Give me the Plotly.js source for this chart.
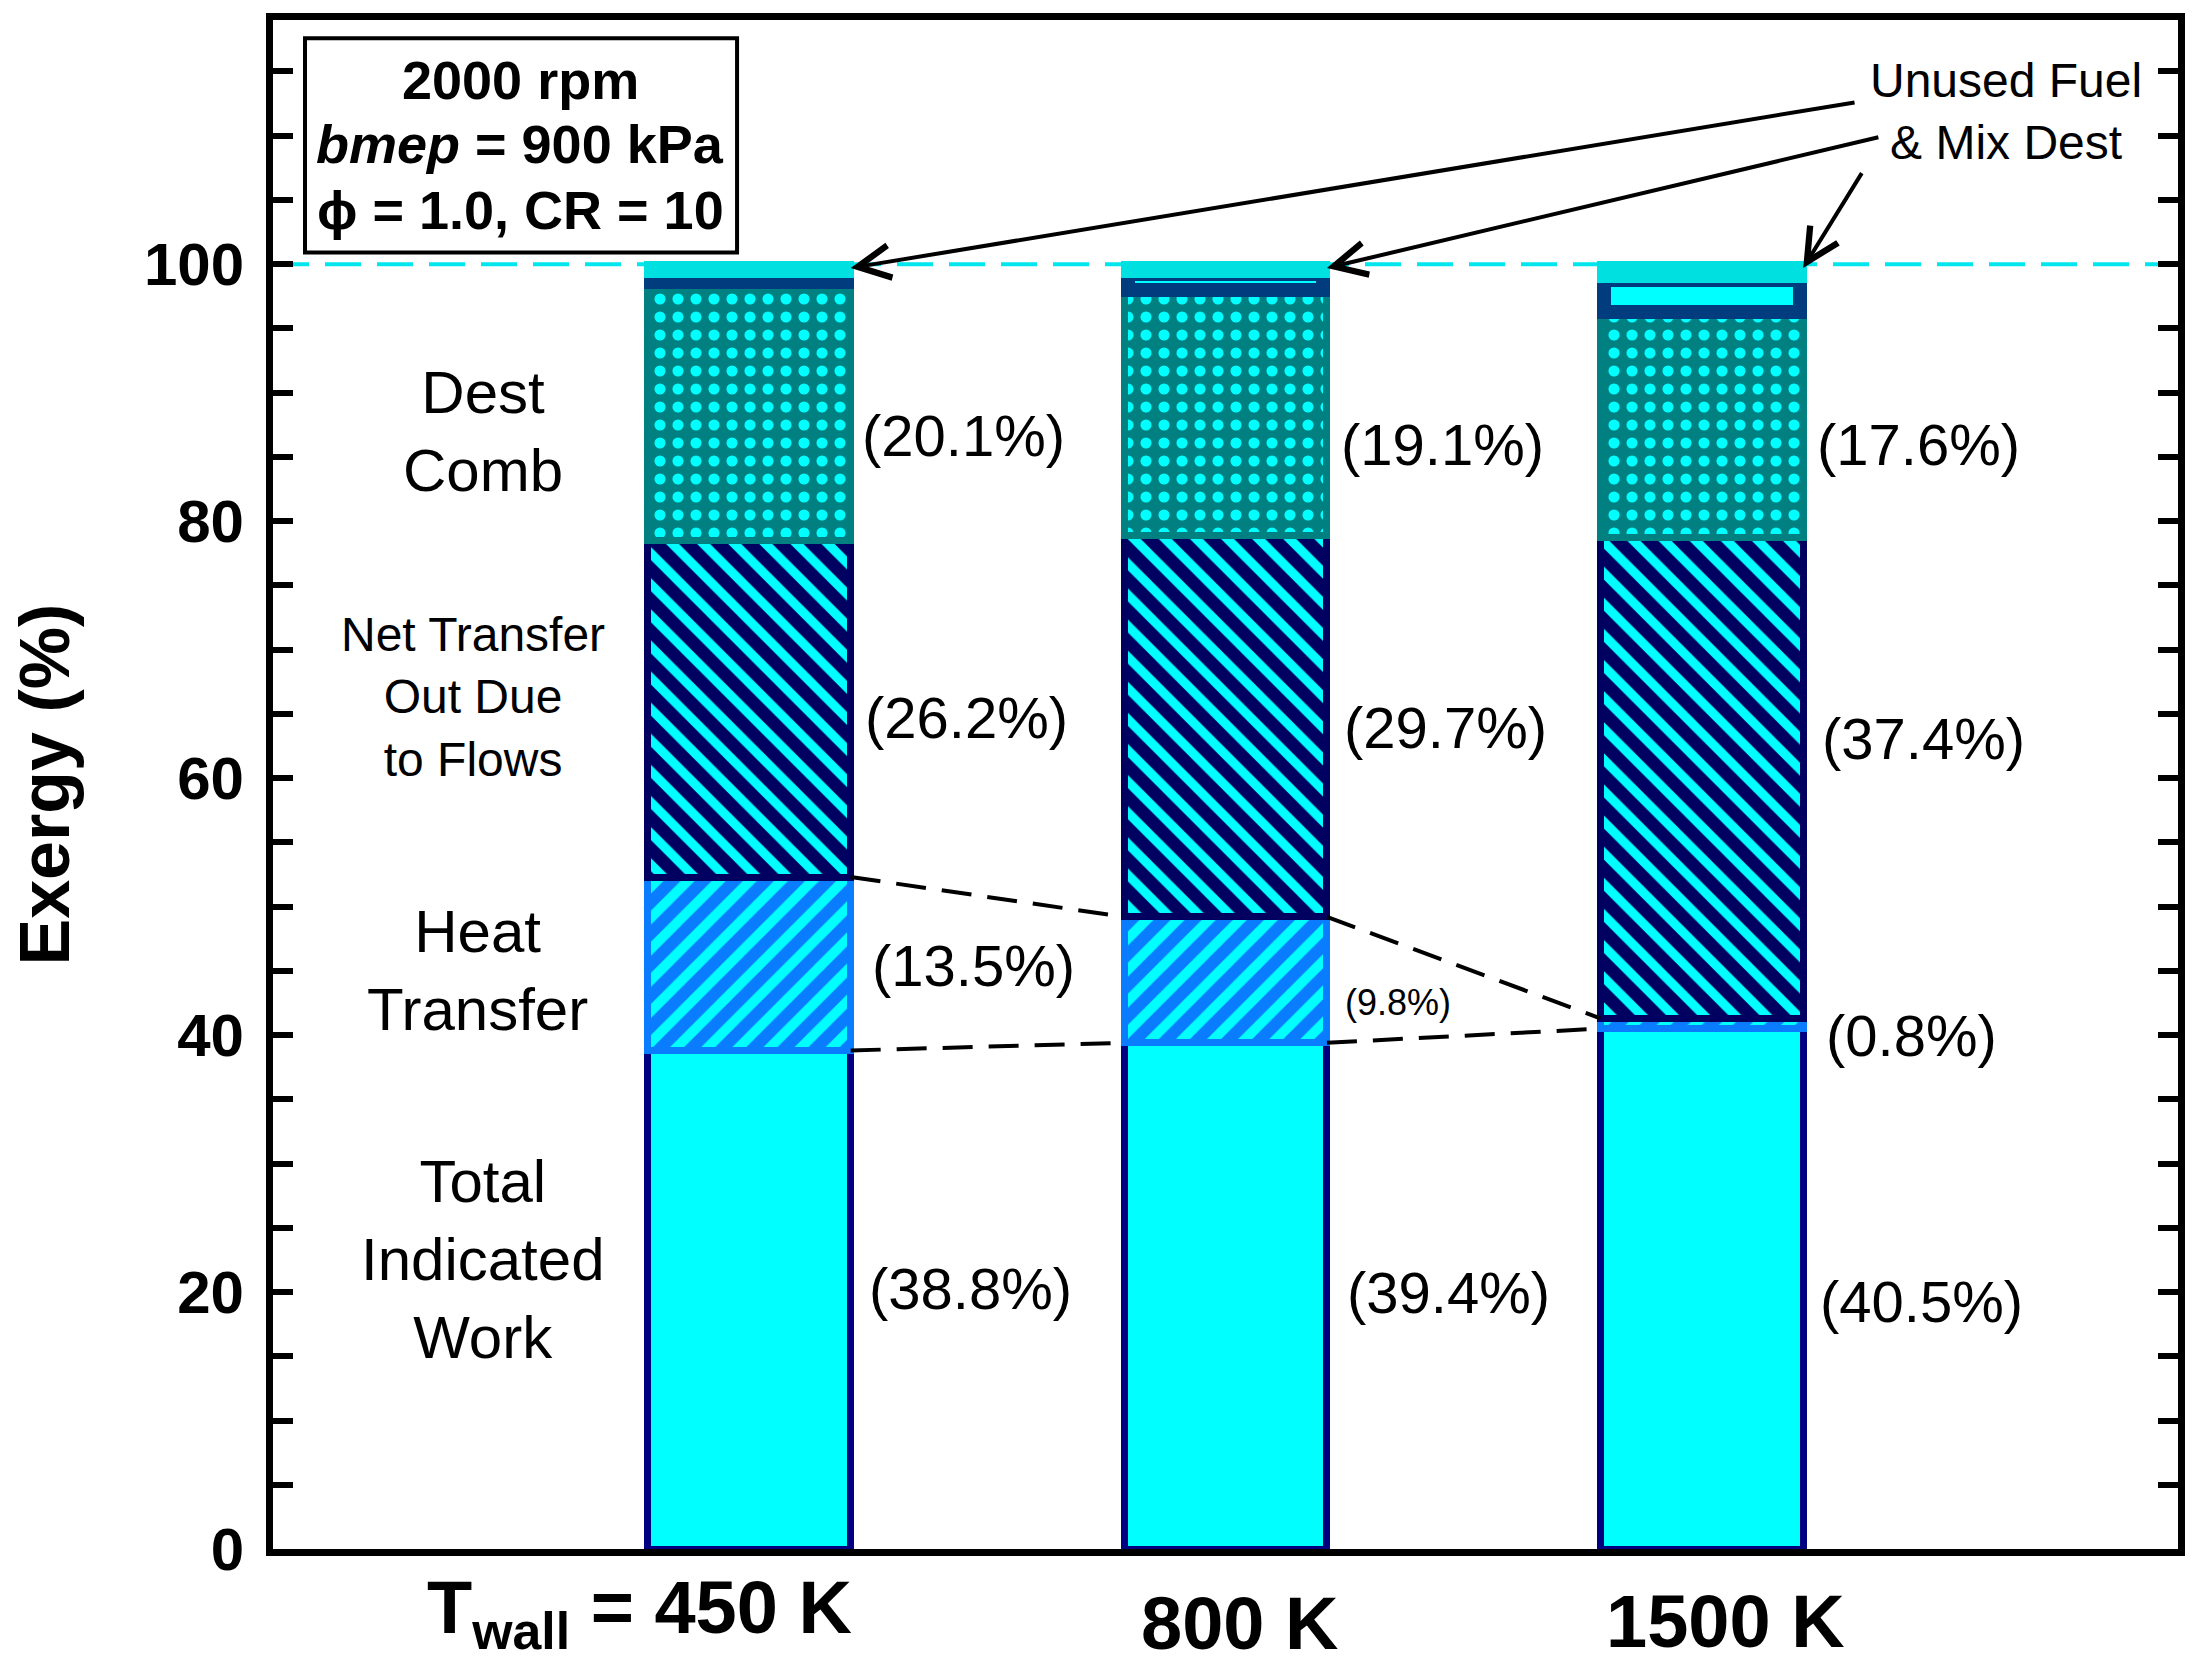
<!DOCTYPE html>
<html>
<head>
<meta charset="utf-8">
<script src="https://cdn.plot.ly/plotly-3.0.1.min.js"></script>
<style>
  html, body { margin: 0; padding: 0; background: #fff; }
  #chart { width: 2194px; height: 1675px; }
</style>
</head>
<body>
<div id="chart"></div>
<script>
// wall temperature cases
const wallLabels = ['T<sub>wall</sub> = 450 K', '800 K', '1500 K'];
const xPos = [0, 1, 2];

// exergy terms, % of fuel exergy, stacked bottom to top
const work = [38.8, 39.4, 40.5];
const heatTransfer = [13.5, 9.8, 0.8];
const flows = [26.2, 29.7, 37.4];
const destComb = [20.1, 19.1, 17.6];
const unusedFuel = [0.6, 1.2, 2.5];
const mixDest = [0.8, 0.8, 1.2];

const termLabels = ['Total<br>Indicated<br>Work', 'Heat<br>Transfer', 'Net Transfer<br>Out Due<br>to Flows', 'Dest<br>Comb'];
const infoLines = ['2000 rpm', '<i>bmep</i> = 900 kPa', '\u03d5 = 1.0, CR = 10'];
const topNote = 'Unused Fuel<br>& Mix Dest';

(function () {
  const font = 'Liberation Sans, Arial, sans-serif';
  const barW = 0.426;

  const barTrace = function (vals, fill, edge, edgeWidth, pattern, w) {
    const marker = {color: fill, line: {color: edge, width: edgeWidth}};
    if (pattern) {
      marker.pattern = Object.assign({bgcolor: fill, fgopacity: 1, fillmode: 'overlay'}, pattern);
    }
    return {type: 'bar', x: xPos, y: vals, width: w || barW, marker: marker, hoverinfo: 'skip'};
  };

  // dashed lines joining the heat transfer band between bars
  const linkTrace = function (levels) {
    const x = [], y = [];
    for (let i = 0; i < levels.length - 1; i++) {
      x.push(xPos[i] + barW / 2, xPos[i + 1] - barW / 2, null);
      y.push(levels[i], levels[i + 1], null);
    }
    return {type: 'scatter', mode: 'lines', x: x, y: y, hoverinfo: 'skip',
      line: {color: 'black', width: 4, dash: '30px,16px'}};
  };

  const htTop = work.map(function (v, i) { return v + heatTransfer[i]; });
  const totals = htTop.map(function (v, i) {
    return v + flows[i] + destComb[i] + unusedFuel[i] + mixDest[i];
  });

  const data = [
    barTrace(work, '#00FFFF', '#000080', 7),
    barTrace(heatTransfer, '#0A7CFF', '#0A7CFF', 7,
      {shape: '/', fgcolor: '#00FFFF', size: 22, solidity: 0.45}),
    barTrace(flows, '#000060', '#000060', 7,
      {shape: '\\', fgcolor: '#00FFFF', size: 22, solidity: 0.42}),
    barTrace(destComb, '#008080', '#008080', 7,
      {shape: '.', fgcolor: '#00FFFF', size: 18, solidity: 0.3}),
    // thick edge, so narrow the box to keep the outer width of the stack
    barTrace(unusedFuel, '#00FFFF', '#003C7E', 14, null, barW - 0.0147),
    barTrace(mixDest, '#00E0E0', '#00E0E0', 7),
    linkTrace(work),
    linkTrace(htTop)
  ];

  const annotations = [];
  const txt = function (text, x, y, size, extra) {
    annotations.push(Object.assign({
      text: text, x: x, y: y, xref: 'x', yref: 'y', showarrow: false,
      xanchor: 'center', yanchor: 'middle',
      font: {family: font, size: size, color: 'black'}
    }, extra || {}));
  };

  // term names on the left
  const termPos = [[-0.56, 22.5], [-0.57, 45.0], [-0.58, 66.3], [-0.56, 87.0]];
  const termSize = [60, 60, 48, 60];
  termLabels.forEach(function (t, k) {
    txt(t, termPos[k][0], termPos[k][1], termSize[k]);
  });

  // percentages beside each bar
  const terms = [work, heatTransfer, flows, destComb];
  const pctPos = [
    [[0.465, 20.3], [1.468, 20.0], [2.462, 19.3]],
    [[0.47, 45.4], [1.362, 42.5], [2.441, 40.0]],
    [[0.456, 64.7], [1.462, 63.9], [2.465, 63.1]],
    [[0.45, 86.7], [1.456, 86.0], [2.456, 86.0]]
  ];
  terms.forEach(function (vals, k) {
    vals.forEach(function (v, i) {
      const small = (k === 1 && i === 1);
      txt('(' + v.toFixed(1) + '%)', pctPos[k][i][0], pctPos[k][i][1], small ? 36 : 58);
    });
  });

  // top note with arrows to the top of each bar
  txt(topNote, 2.638, 111.9, 48);
  const tails = [[2.324, 112.6], [2.374, 109.9], [2.338, 107.2]];
  xPos.forEach(function (xp, i) {
    annotations.push({
      x: xp + barW / 2, y: totals[i] - 0.3, xref: 'x', yref: 'y',
      ax: tails[i][0], ay: tails[i][1], axref: 'x', ayref: 'y',
      text: '', showarrow: true, arrowhead: 5, arrowsize: 1.6, arrowwidth: 4,
      arrowcolor: 'black', standoff: 0
    });
  });

  // x category labels
  const xLabelX = [-0.23, 1.03, 2.05];
  const xLabelShift = [-64, -74, -72];
  wallLabels.forEach(function (t, i) {
    annotations.push({
      text: t, x: xLabelX[i], y: 0, xref: 'x', yref: 'paper', yshift: xLabelShift[i],
      showarrow: false, xanchor: 'center', yanchor: 'middle',
      font: {family: font, size: 74, color: 'black', weight: 'bold'}
    });
  });

  // condition box lines
  const infoY = [0.961, 0.919, 0.876];
  infoLines.forEach(function (t, i) {
    annotations.push({
      text: t, x: 0.1297, y: infoY[i], xref: 'paper', yref: 'paper',
      showarrow: false, xanchor: 'center', yanchor: 'middle',
      font: {family: font, size: 54, color: 'black', weight: 'bold'}
    });
  });

  // y axis title
  annotations.push({
    text: 'Exergy (%)', textangle: -90, x: 0, y: 0.5, xref: 'paper', yref: 'paper',
    xshift: -229, showarrow: false, xanchor: 'center', yanchor: 'middle',
    font: {family: font, size: 70, color: 'black', weight: 'bold'}
  });

  const layout = {
    width: 2194,
    height: 1675,
    margin: {l: 273, r: 16, t: 20, b: 126},
    paper_bgcolor: 'white',
    plot_bgcolor: 'white',
    barmode: 'stack',
    showlegend: false,
    xaxis: {
      range: [-1, 3], showticklabels: false, ticks: '', showgrid: false, zeroline: false,
      showline: true, linewidth: 7, linecolor: 'black', mirror: true, fixedrange: true
    },
    yaxis: {
      range: [0, 119], tickmode: 'linear', tick0: 0, dtick: 20,
      ticks: 'inside', ticklen: 20, tickwidth: 6, tickcolor: 'black',
      showline: true, linewidth: 7, linecolor: 'black', mirror: 'allticks',
      showgrid: false, zeroline: false, ticklabelstandoff: 10,
      tickfont: {family: font, size: 60, color: 'black', weight: 'bold'},
      minor: {tick0: 0, dtick: 5, ticks: 'inside', ticklen: 20, tickwidth: 6,
        tickcolor: 'black', showgrid: false},
      fixedrange: true
    },
    shapes: [
      {type: 'line', xref: 'paper', x0: 0, x1: 1, yref: 'y', y0: totals[0], y1: totals[0],
        line: {color: '#00E5EE', width: 4, dash: '36px,16px'}, layer: 'below'},
      {type: 'rect', xref: 'paper', yref: 'paper', x0: 0.0168, x1: 0.2436, y0: 0.848, y1: 0.988,
        line: {color: 'black', width: 4}, fillcolor: 'white'}
    ],
    annotations: annotations
  };

  Plotly.newPlot('chart', data, layout, {displayModeBar: false, staticPlot: true});
})();
</script>
</body>
</html>
